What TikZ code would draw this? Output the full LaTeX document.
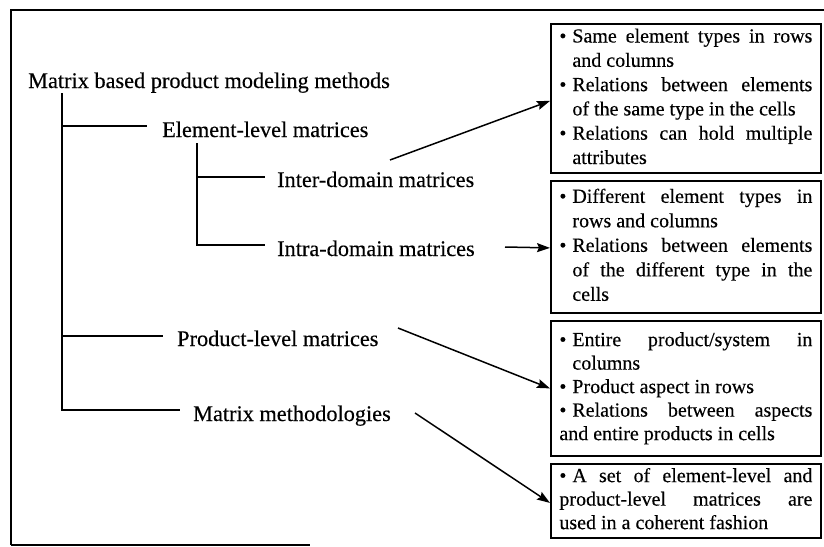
\documentclass[tikz,border=0pt]{standalone}
\usepackage{fontspec}
\setmainfont{Liberation Serif}[FakeBold=0.3]
\usetikzlibrary{arrows.meta}
% lines of the bullet boxes (content width 253pt, hang 13pt)
\newcommand\jsp{\spaceskip=.25em plus 1fil\relax}
\newcommand\bl[1]{\hbox to 253pt{\strut\makebox[13pt][l]{\textbullet}\jsp #1}}
\newcommand\blr[1]{\hbox to 253pt{\strut\makebox[13pt][l]{\textbullet}#1\hfil}}
\newcommand\cl[1]{\hbox to 253pt{\strut\hskip13pt\jsp #1}}
\newcommand\clr[1]{\hbox to 253pt{\strut\hskip13pt #1\hfil}}
\newcommand\fl[1]{\hbox to 253pt{\strut\jsp #1}}
\newcommand\flr[1]{\hbox to 253pt{\strut #1\hfil}}
\begin{document}
\begin{tikzpicture}[x=1pt,y=-1pt,
  frame/.style={line width=1.8pt},
  tree/.style={line width=2.2pt},
  lbl/.style={inner sep=0pt,anchor=base west,font=\fontsize{22.3}{26}\selectfont},
  infobox/.style={draw,line width=1.8pt,anchor=north west,minimum width=270pt,inner sep=0pt},
  arr/.style={line width=1.5pt,-{Stealth[length=13pt,width=9pt,inset=2pt]}}]
\useasboundingbox (0,0) rectangle (824,546);
% scan frame
\draw[frame] (11,545) -- (11,10) -- (824,10);
\draw[frame] (11,545) -- (310,545);
% tree labels
\node[lbl] (root) at (28,88) {Matrix based product modeling methods};
\node[lbl] (elem) at (162,137) {Element-level matrices};
\node[lbl] (inter) at (277,187) {Inter-domain matrices};
\node[lbl] (intra) at (277,256) {Intra-domain matrices};
\node[lbl] (prod) at (177,346) {Product-level matrices};
\node[lbl] (meth) at (193,421) {Matrix methodologies};
% tree lines
\coordinate (t0) at (62,93);
\coordinate (t1) at (197,143);
\draw[tree] (t0) -- (62,410) -- ([xshift=-13pt,yshift=11pt]meth.base west);
\draw[tree] (62,126) -- ([xshift=-15pt,yshift=11pt]elem.base west);
\draw[tree] (62,336) -- ([xshift=-14pt,yshift=10pt]prod.base west);
\draw[tree] (t1) -- (197,245) -- ([xshift=-12pt,yshift=11pt]intra.base west);
\draw[tree] (197,177) -- ([xshift=-12pt,yshift=10pt]inter.base west);
% boxes
\node[infobox,minimum height=149pt,font=\fontsize{20}{24.3}\selectfont] (b1) at (550,23) {\vbox{%
\bl{Same element types in rows}
\clr{and columns}
\bl{Relations between elements}
\clr{of the same type in the cells}
\bl{Relations can hold multiple}
\clr{attributes}}};
\node[infobox,minimum height=132pt,font=\fontsize{20}{24.5}\selectfont] (b2) at (550,180) {\vbox{%
\bl{Different element types in}
\clr{rows and columns}
\bl{Relations between elements}
\cl{of the different type in the}
\clr{cells}}};
\node[infobox,minimum height=135pt,font=\fontsize{20}{23.5}\selectfont] (b3) at (550,320) {\vbox{%
\bl{Entire product/system in}
\clr{columns}
\blr{Product aspect in rows}
\bl{Relations between aspects}
\flr{and entire products in cells}}};
\node[infobox,minimum height=74pt,font=\fontsize{20}{23.5}\selectfont] (b4) at (550,463) {\vbox{%
\bl{A set of element-level and}
\fl{product-level matrices are}
\flr{used in a coherent fashion}}};
% arrows
\coordinate (s1) at (390,160);
\coordinate (s2) at (505,247);
\coordinate (s3) at (398,328);
\coordinate (s4) at (415,413);
\draw[arr] (s1) -- ([yshift=-2.5pt]b1.west);
\draw[arr] (s2) -- ([yshift=-1pt]b2.west);
\draw[arr] (s3) -- (b3.west);
\draw[arr] (s4) -- ([yshift=-2pt]b4.west);
\end{tikzpicture}
\end{document}
